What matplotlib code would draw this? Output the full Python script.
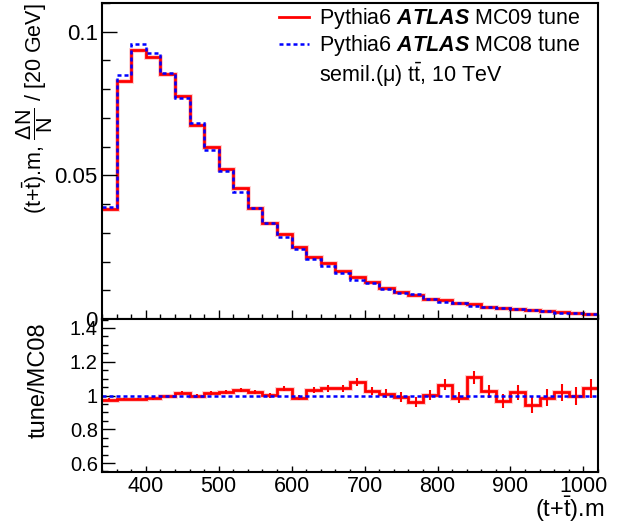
import numpy as np
import matplotlib
matplotlib.use("Agg")
import matplotlib.pyplot as plt
from matplotlib.lines import Line2D
from matplotlib.ticker import MultipleLocator, FixedLocator

plt.rcParams['font.family'] = ['Liberation Sans', 'DejaVu Sans']
plt.rcParams['mathtext.fontset'] = 'custom'
plt.rcParams['mathtext.rm'] = 'Liberation Sans'
plt.rcParams['mathtext.it'] = 'Liberation Sans:italic'
plt.rcParams['mathtext.bf'] = 'Liberation Sans:bold'
plt.rcParams['mathtext.bfit'] = 'Liberation Sans:italic:bold'

# bin edges of the (t+tbar) invariant mass, 20 GeV bins
edges = np.arange(340, 1021, 20)

# normalised distributions (dN/N per 20 GeV)
mc09 = [0.0382, 0.0828, 0.0938, 0.0912, 0.0854, 0.0778, 0.0677, 0.0598, 0.0523, 0.0455,
        0.0388, 0.0335, 0.0295, 0.0251, 0.0216, 0.0194, 0.0166, 0.0146, 0.0129, 0.0107,
        0.0093, 0.0082, 0.0070, 0.0066, 0.0056, 0.0051, 0.0043, 0.0037, 0.0035, 0.0030,
        0.0027, 0.0023, 0.0021, 0.0019]
mc08 = [0.0391, 0.0848, 0.0959, 0.0927, 0.0857, 0.0770, 0.0681, 0.0590, 0.0515, 0.0443,
        0.0385, 0.0333, 0.0284, 0.0245, 0.0210, 0.0184, 0.0160, 0.0136, 0.0124, 0.0103,
        0.0092, 0.0086, 0.0069, 0.0059, 0.0057, 0.0045, 0.0042, 0.0037, 0.0034, 0.0031,
        0.0027, 0.0022, 0.0020, 0.0018]

# ratio MC09 / MC08 with its stat. error
ratio = [0.976, 0.978, 0.980, 0.984, 0.996, 1.016, 0.996, 1.014, 1.020, 1.032,
         1.020, 1.002, 1.040, 0.988, 1.032, 1.042, 1.044, 1.079, 1.028, 1.010,
         0.990, 0.964, 1.004, 1.065, 0.988, 1.107, 1.024, 0.968, 1.020, 0.943,
         0.988, 1.020, 0.998, 1.042]
ratio_err = [0.008, 0.007, 0.007, 0.008, 0.008, 0.009, 0.010, 0.010, 0.011, 0.012,
             0.013, 0.014, 0.015, 0.016, 0.018, 0.019, 0.021, 0.023, 0.025, 0.026,
             0.028, 0.030, 0.031, 0.033, 0.035, 0.037, 0.040, 0.042, 0.044, 0.046,
             0.048, 0.051, 0.054, 0.058]

centers = 0.5 * (edges[:-1] + edges[1:])
dots = (0, (1.6, 1.2))

fig = plt.figure(figsize=(6.19, 5.24), dpi=100)
L, R = 102 / 619, 598 / 619
ax = fig.add_axes([L, 1 - 319 / 524, R - L, 316 / 524])
axr = fig.add_axes([L, 1 - 472 / 524, R - L, 153 / 524])

# top panel
ax.stairs(mc09, edges, baseline=None, color='red', lw=3.5, alpha=0.2)
ax.stairs(mc09, edges, baseline=None, color='red', lw=2)
ax.stairs(mc08, edges, baseline=None, color='blue', lw=1.8, linestyle=dots)
ax.set_xlim(340, 1020)
ax.set_ylim(0, 0.110)
ax.yaxis.set_major_locator(FixedLocator([0, 0.05, 0.1]))
ax.yaxis.set_minor_locator(MultipleLocator(0.01))
ax.set_yticklabels(['0', '0.05', '0.1'])
ax.xaxis.set_major_locator(MultipleLocator(100))
ax.xaxis.set_minor_locator(MultipleLocator(20))
ax.tick_params(axis='x', which='both', direction='in', labelbottom=False)
ax.tick_params(axis='x', which='major', length=6.5, width=1)
ax.tick_params(axis='x', which='minor', length=3.5, width=1)
ax.tick_params(axis='y', which='both', direction='in', labelsize=16, pad=3)
ax.tick_params(axis='y', which='major', length=10.5, width=1)
ax.tick_params(axis='y', which='minor', length=5.5, width=1)
ax.set_ylabel(r'(t+$\mathrm{\bar{t}}$).m, $\dfrac{\Delta \mathrm{N}}{\mathrm{N}}$ / [20 GeV]',
              fontsize=15.5, loc='top')
ax.yaxis.set_label_coords(-0.094, 1.0)

handles = [Line2D([], [], color='red', lw=2),
           Line2D([], [], color='blue', lw=1.8, linestyle=dots),
           Line2D([], [], color='none')]
labels = [r'Pythia6 $\mathbfit{ATLAS}$ MC09 tune',
          r'Pythia6 $\mathbfit{ATLAS}$ MC08 tune',
          r'semil.(μ) t$\mathrm{\bar{t}}$, 10 TeV']
ax.legend(handles, labels, loc='upper left', bbox_to_anchor=(0.357, 0.99), frameon=False,
          fontsize=15.5, handlelength=1.4, handletextpad=0.47, labelspacing=0.1,
          borderpad=0, borderaxespad=0)

# ratio panel
axr.stairs(ratio, edges, baseline=None, color='red', lw=3.5, alpha=0.2)
axr.stairs(ratio, edges, baseline=None, color='red', lw=2)
axr.errorbar(centers, ratio, yerr=ratio_err, fmt='none', ecolor='red', elinewidth=1.5)
axr.axhline(1.0, color='blue', lw=1.8, linestyle=dots)
axr.set_xlim(340, 1020)
axr.set_ylim(0.547, 1.453)
axr.yaxis.set_major_locator(FixedLocator([0.6, 0.8, 1.0, 1.2, 1.4]))
axr.yaxis.set_minor_locator(MultipleLocator(0.05))
axr.set_yticklabels(['0.6', '0.8', '1', '1.2', '1.4'])
axr.xaxis.set_major_locator(MultipleLocator(100))
axr.xaxis.set_minor_locator(MultipleLocator(20))
axr.tick_params(axis='x', which='both', direction='in', labelsize=15.5, pad=3)
axr.tick_params(axis='x', which='major', length=4.5, width=1)
axr.tick_params(axis='x', which='minor', length=2.5, width=1)
axr.tick_params(axis='y', which='both', direction='in', labelsize=14.5, pad=3)
axr.tick_params(axis='y', which='major', length=9, width=1)
axr.tick_params(axis='y', which='minor', length=4.5, width=1)
axr.set_ylabel('tune/MC08', fontsize=17, loc='top')
axr.yaxis.set_label_coords(-0.105, 0.975)
axr.set_xlabel(r'(t+$\mathrm{\bar{t}}$).m', fontsize=17, loc='right')
axr.xaxis.set_label_coords(1.012, -0.15)

for a in (ax, axr):
    for s in a.spines.values():
        s.set_linewidth(1.5)

fig.savefig('out.png', dpi=100)
